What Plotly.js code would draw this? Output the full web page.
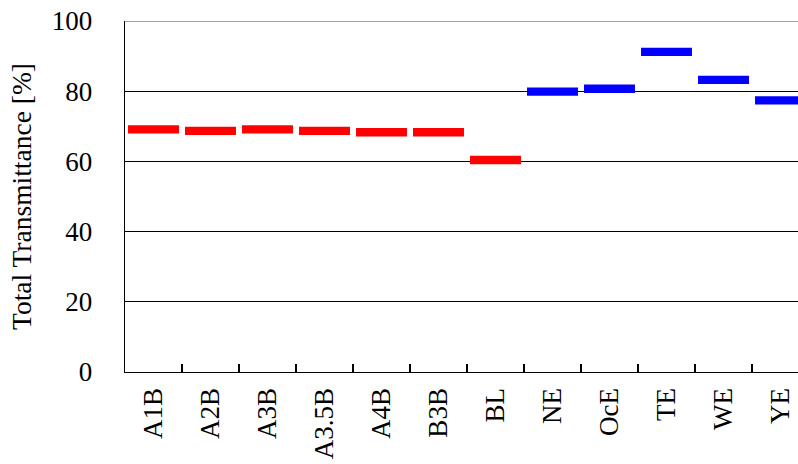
<!DOCTYPE html>
<html>
<head>
<meta charset="utf-8">
<script src="https://cdn.plot.ly/plotly-3.0.1.min.js"></script>
<style>
  html, body { margin: 0; padding: 0; background: #fff; overflow: hidden; }
  #chart { width: 798px; height: 464px; }
</style>
</head>
<body>
<div id="chart"></div>
<script>
// Total transmittance per sample
const catsRed = ['A1B', 'A2B', 'A3B', 'A3.5B', 'A4B', 'B3B', 'BL'];
const valsRed = [69.1, 68.7, 69.1, 68.7, 68.3, 68.3, 60.4];
const catsBlue = ['NE', 'OcE', 'TE', 'WE', 'YE'];
const valsBlue = [79.9, 80.7, 91.2, 83.2, 77.4];
const yTicks = [0, 20, 40, 60, 80, 100];

const FONT = 'Liberation Serif, Times New Roman, serif';

function dashTrace(x, y, color) {
  return {
    type: 'scatter', mode: 'markers', x: x, y: y,
    marker: { symbol: 'line-ew', size: 36.4, color: color,
              line: { width: 8.3, color: color } },
    hoverinfo: 'skip', showlegend: false, cliponaxis: true
  };
}

const data = [
  dashTrace(catsRed, valsRed, '#FF0000'),
  dashTrace(catsBlue, valsBlue, '#0000FF')
];

const layout = {
  width: 798, height: 464,
  margin: { l: 125, r: 0, t: 21, b: 91.5, pad: 0 },
  paper_bgcolor: '#fff', plot_bgcolor: '#fff',
  font: { family: FONT, size: 27, color: '#000' },
  showlegend: false,
  xaxis: {
    type: 'category',
    categoryorder: 'array',
    categoryarray: catsRed.concat(catsBlue),
    range: [-0.5, 11.307],
    tickson: 'boundaries',
    ticks: 'inside', ticklen: 8, tickwidth: 1.3, tickcolor: '#000',
    tickangle: -90,
    tickfont: { family: FONT, size: 27, color: '#000' },
    ticklabelstandoff: 4,
    showgrid: false, zeroline: false,
    showline: true, linecolor: '#000', linewidth: 1.3,
    fixedrange: true
  },
  yaxis: {
    range: [0, 100],
    tickvals: yTicks,
    ticktext: yTicks.map(String),
    ticks: 'inside', ticklen: 8, tickwidth: 1.3, tickcolor: '#000',
    tickfont: { family: FONT, size: 27, color: '#000' },
    ticklabelstandoff: 26,
    showgrid: true, gridcolor: '#000', gridwidth: 1.2,
    zeroline: false,
    showline: true, linecolor: '#000', linewidth: 1.3,
    title: { text: 'Total Transmittance [%]', font: { family: FONT, size: 27.5, color: '#000' }, standoff: 12 },
    fixedrange: true
  },
  shapes: [
    { type: 'line', xref: 'paper', yref: 'y', x0: 0, x1: 1, y0: 100, y1: 100,
      line: { color: '#888888', width: 1.5 }, layer: 'above' }
  ]
};

Plotly.newPlot('chart', data, layout, { displayModeBar: false, staticPlot: true });
</script>
</body>
</html>
